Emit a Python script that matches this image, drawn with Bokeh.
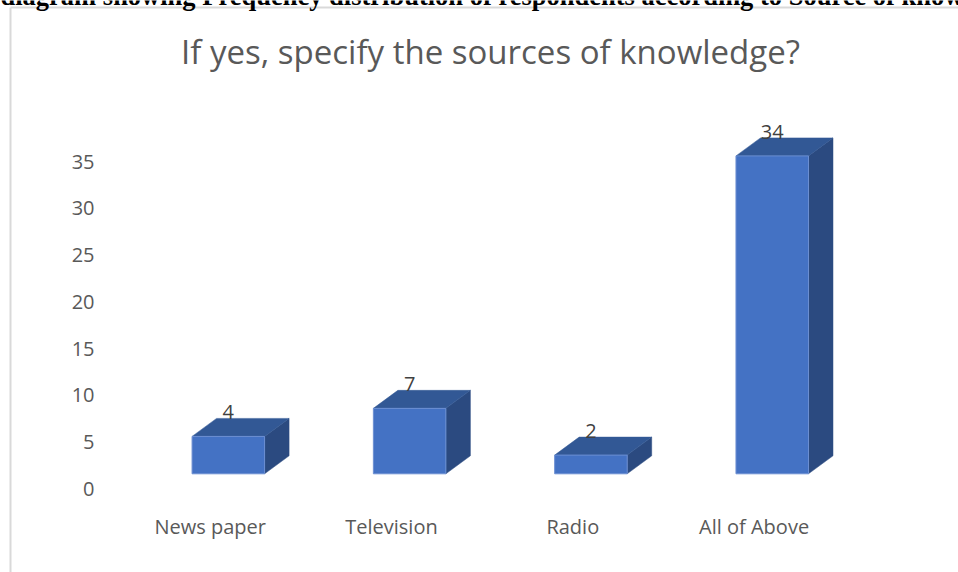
from bokeh.plotting import figure
from bokeh.models import Label, FixedTicker, ColumnDataSource
from bokeh.core.properties import value
from bokeh.embed import file_html
from bokeh.resources import INLINE

# ---- data ----
categories = ["News paper", "Television", "Radio", "All of Above"]
counts = [4, 7, 2, 34]
y_ticks = [0, 5, 10, 15, 20, 25, 30, 35]
title_text = "If yes, specify the sources of knowledge?"
caption_text = ("diagram showing Frequency distribution of respondents "
                "according to Source of knowledge")

# ---- layout geometry (pixels) ----
W, H = 958, 572
px_per_cat = 181.3      # distance between category centres
cat0_px = 209.7         # pixel x of the first category label centre
px_per_unit = 9.35      # pixels per count unit
zero_py = 488.3         # pixel y (from top) of the 0 tick

x_start = -cat0_px / px_per_cat
x_end = (W - cat0_px) / px_per_cat
y_start = (zero_py - H) / px_per_unit
y_end = zero_py / px_per_unit

def dx(px):
    return (px - cat0_px) / px_per_cat

def dy(py):
    return (zero_py - py) / px_per_unit

# 3D bar geometry (data units)
bar_shift = 0.10
bar_half = 0.20
depth_x = 24.5 / px_per_cat
depth_y = 18.0 / px_per_unit
base = 15.0 / px_per_unit

FRONT = "#4472c4"
TOP = "#325895"
SIDE = "#2b4a80"
TEXT = "#595959"

p = figure(width=W, height=H, x_range=(x_start, x_end), y_range=(y_start, y_end),
           output_backend="svg", toolbar_location=None, min_border=0,
           background_fill_color="white", border_fill_color="white")
p.outline_line_color = None
p.xgrid.visible = False
p.ygrid.visible = False

# chart border (left and top only visible)
p.segment(x0=[dx(10), dx(10)], y0=[dy(7), dy(7)], x1=[dx(10), dx(W + 5)], y1=[dy(H + 5), dy(7)],
          line_color="#d9d9d9", line_width=2)

xs = [i + bar_shift for i in range(len(categories))]
left = [x - bar_half for x in xs]
right = [x + bar_half for x in xs]
bottom = [base] * len(counts)
top = [base + v for v in counts]

top_xs = [[l, r, r + depth_x, l + depth_x] for l, r in zip(left, right)]
top_ys = [[t, t, t + depth_y, t + depth_y] for t in top]
side_xs = [[r, r + depth_x, r + depth_x, r] for r in right]
side_ys = [[b, b + depth_y, t + depth_y, t] for b, t in zip(bottom, top)]

p.patches(xs=side_xs, ys=side_ys, fill_color=SIDE, line_color=SIDE, line_width=0.5)
p.patches(xs=top_xs, ys=top_ys, fill_color=TOP, line_color=TOP, line_width=0.5)
p.quad(left=left, right=right, bottom=bottom, top=top, fill_color=FRONT,
       line_color="#6c8fd2", line_width=1)

lab_src = ColumnDataSource(dict(x=xs, y=[t + depth_y for t in top],
                                text=[str(v) for v in counts]))
p.text(x="x", y="y", text="text", source=lab_src, text_align="center",
       text_baseline="middle", y_offset=-6, text_font=value("Open Sans"),
       text_font_size="20px", text_color="#404040")

# axes
p.yaxis.fixed_location = dx(108)
p.yaxis.ticker = FixedTicker(ticks=y_ticks)
p.yaxis.axis_line_color = None
p.yaxis.major_tick_line_color = None
p.yaxis.minor_tick_line_color = None
p.yaxis.major_label_standoff = 8
p.yaxis.major_label_text_font = "Open Sans"
p.yaxis.major_label_text_font_size = "20px"
p.yaxis.major_label_text_color = TEXT

p.xaxis.fixed_location = dy(496)
p.xaxis.ticker = FixedTicker(ticks=list(range(len(categories))))
p.xaxis.major_label_overrides = {i: c for i, c in enumerate(categories)}
p.xaxis.axis_line_color = None
p.xaxis.major_tick_line_color = None
p.xaxis.minor_tick_line_color = None
p.xaxis.major_label_standoff = 10
p.xaxis.major_label_text_font = "Open Sans"
p.xaxis.major_label_text_font_size = "20px"
p.xaxis.major_label_text_color = TEXT

# title
p.add_layout(Label(x=dx(490), y=dy(51), text=title_text, text_align="center",
                   text_baseline="alphabetic", text_font="Open Sans",
                   text_font_size="33px", text_color=TEXT))
# cut caption at top
p.add_layout(Label(x=dx(0), y=dy(-5), text=caption_text, text_align="left",
                   text_baseline="alphabetic", text_font="Liberation Serif",
                   text_font_style="bold", text_font_size="26.5px", text_color="black"))

open("out.html", "w").write(file_html(p, INLINE))
